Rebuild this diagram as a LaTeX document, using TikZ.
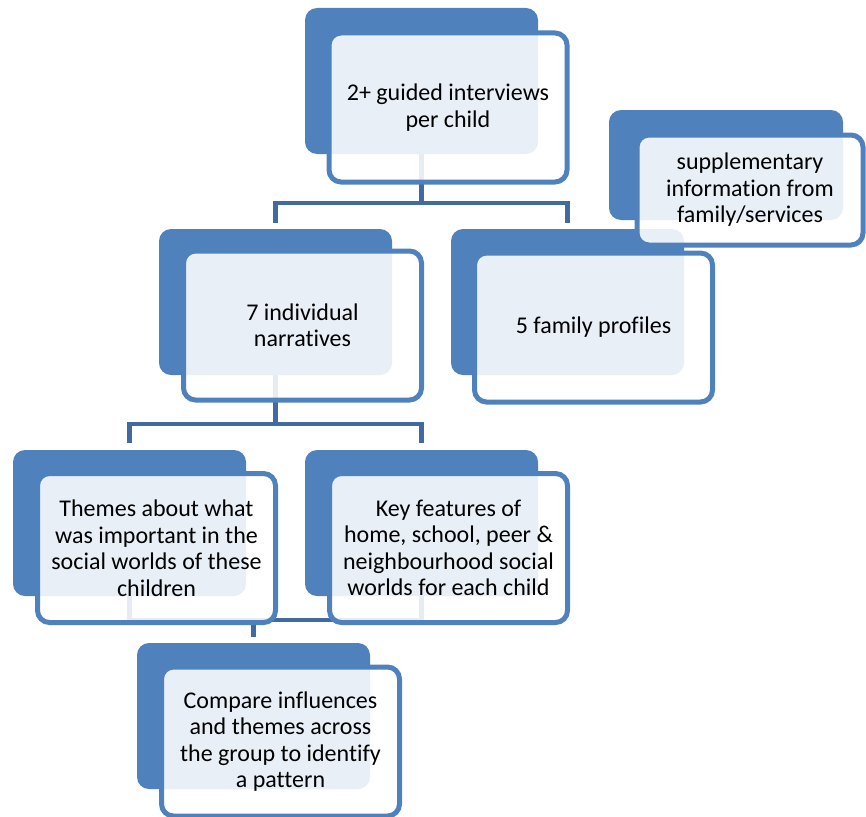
\documentclass[tikz,border=0pt]{standalone}
\usepackage{fontspec}
\setmainfont[Ligatures=NoCommon]{Carlito}
\usepackage{tikz}
\usetikzlibrary{calc}
\definecolor{boxblue}{RGB}{79,129,189}
\definecolor{linkblue}{RGB}{65,106,160}

\tikzset{
  back/.style={rectangle, rounded corners=12pt, fill=boxblue, inner sep=0pt, outer sep=0pt,
    anchor=north west, minimum width=233pt, minimum height=146pt},
  front/.style={rectangle, rounded corners=12pt, draw=boxblue, line width=5pt, fill=white,
    fill opacity=0.88, text opacity=1, inner sep=0pt, outer sep=0pt, anchor=north west,
    minimum width=238pt, minimum height=149pt, align=center, font=\fontsize{24}{26.5}\selectfont},
  link/.style={draw=linkblue, line width=4.5pt},
}

\begin{document}
\begin{tikzpicture}[x=1pt,y=-1pt]
\useasboundingbox (0,0) rectangle (866,816);
% Back boxes :
\node[back] (interviewsback) at (305,8) {};
\node[back, minimum width=234pt, minimum height=110pt] (supplementback) at (609,110) {};
\node[back] (narrativesback) at (159,229) {};
\node[back] (profilesback) at (451,229) {};
\node[back] (themesback) at (13,450) {};
\node[back] (featuresback) at (305,450) {};
\node[back] (compareback) at (137,643) {};
% Links :
\draw[link] (interviewsback.south) -- ++(0,49) coordinate (split1);
\draw[link, shorten >=6pt] (split1) -| (narrativesback.north);
\draw[link, shorten >=6pt] (split1) -| (profilesback.north);
\draw[link] (narrativesback.south) -- ++(0,49) coordinate (split2);
\draw[link, shorten >=7pt] (split2) -| (themesback.north);
\draw[link, shorten >=7pt] (split2) -| (featuresback.north);
\draw[link] (themesback.south) -- ++(0,24) coordinate (join) -| (featuresback.south);
\draw[link, shorten >=6pt] (join -| compareback.north) -- (compareback.north);
% Front boxes :
\node[front] (interviews) at (329,33) {2+ guided interviews\\per child};
\node[front, minimum width=226pt, minimum height=110pt] (supplement) at (637,135) {supplementary\\information from\\family/services};
\node[front] (narratives) at (183.5,251) {7 individual\\narratives};
\node[front] (profiles) at (474.5,253) {5 family profiles};
\node[front] (themes) at (37.5,473.5) {Themes about what\\was important in the\\social worlds of these\\children};
\node[front] (features) at (329.5,473.5) {Key features of\\home, school, peer \&\\neighbourhood social\\worlds for each child};
\node[front] (compare) at (161.5,667) {Compare influences\\and themes across\\the group to identify\\a pattern};
\end{tikzpicture}
\end{document}
